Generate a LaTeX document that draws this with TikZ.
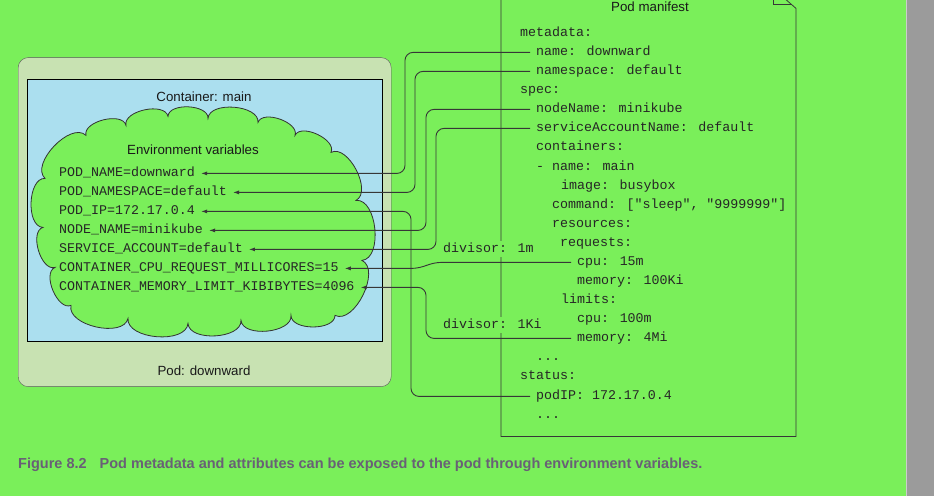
\documentclass[tikz,border=0pt]{standalone}
\usepackage{fontspec}
\setmainfont{Liberation Sans}
\newfontfamily\codefont{Liberation Mono}
\usetikzlibrary{arrows.meta}
\definecolor{bggreen}{RGB}{122,239,90}
\definecolor{podfill}{RGB}{200,226,178}
\definecolor{boxblue}{RGB}{171,223,239}
\definecolor{stripgray}{RGB}{155,155,155}
\definecolor{capgray}{RGB}{105,96,118}
\definecolor{linegray}{RGB}{55,55,55}
\begin{document}
\begin{tikzpicture}[x=1pt,y=-1pt,
	code/.style={font=\codefont\fontsize{13.3}{16}\selectfont,inner sep=0pt,
		anchor=west,text height=9pt,text depth=3pt,text=black!85},
	sans/.style={font=\fontsize{13.3}{16}\selectfont,text=black!90},
	conn/.style={draw=linegray,line width=0.9pt,rounded corners=8pt,
		-{Latex[length=6pt,width=4pt]}},
	divtxt/.style={code,fill=bggreen,inner sep=2pt},
	puff/.style={bend left=90,looseness=0.9}]
	\fill[bggreen] (0,0) rectangle (934,496);
	\fill[stripgray] (906,0) rectangle (934,496);
	\draw[gray!40,line width=0.8pt] (906.5,0) -- (906.5,496);
	\useasboundingbox (0,0) rectangle (934,496);

	\node[draw=gray!70!black,fill=podfill,rounded corners=10pt,inner sep=0pt,
		minimum width=373pt,minimum height=329pt,anchor=north west] (pod) at (18,57) {};
	\node[draw=black,fill=boxblue,inner sep=0pt,
		minimum width=355pt,minimum height=262pt,anchor=north west] (ctr) at (27,79) {};
	\node[sans] (ctrlbl) at (204,96) {Container: main};
	\node[sans] (podlbl) at (204,370) {Pod: downward};

	\filldraw[draw=black!80,fill=bggreen,line width=0.8pt] (45,178) to[puff] (86,135) to[puff] (126,125)
		to[puff] (168,116) to[puff] (208,118) to[puff] (258,122) to[puff] (295,135)
		to[puff] (331,152) to[puff] (356,200) to[puff] (362,260) to[puff] (335,315)
		to[puff] (291,315) to[puff] (241,320) to[puff] (188,323) to[puff] (128,318)
		to[puff] (71,305) to[puff] (55,267) to[puff] (43,227) to[puff] (45,178) -- cycle;
	\node[sans] (envlbl) at (193,149) {Environment variables};

	\begin{scope}[every node/.style={code}]
	\node (ePN) at (59,173) {POD\_NAME=downward};
	\node (ePNS) at (59,192) {POD\_NAMESPACE=default};
	\node (ePIP) at (59,211) {POD\_IP=172.17.0.4};
	\node (eNN) at (59,230) {NODE\_NAME=minikube};
	\node (eSA) at (59,249) {SERVICE\_ACCOUNT=default};
	\node (eCPU) at (59,268) {CONTAINER\_CPU\_REQUEST\_MILLICORES=15};
	\node (eMEM) at (59,287) {CONTAINER\_MEMORY\_LIMIT\_KIBIBYTES=4096};
	\end{scope}

	\draw[linegray,line width=0.8pt] (501,436) -- (501,-12) -- (773,-12) -- (796,8) -- (796,436) -- cycle;
	\draw[linegray,line width=0.8pt] (773,-12) -- (773,4) -- (791,4);
	\node[sans] (mtitle) at (650,6) {Pod manifest};

	\begin{scope}[every node/.style={code}]
	\node (mmeta) at (520,33) {metadata:};
	\node (mname) at (536,52) {name: downward};
	\node (mns) at (536,71) {namespace: default};
	\node (mspec) at (520,90) {spec:};
	\node (mnode) at (536,109) {nodeName: minikube};
	\node (msa) at (536,128) {serviceAccountName: default};
	\node (mctrs) at (536,147) {containers:};
	\node (mcname) at (536,167) {- name: main};
	\node (mimg) at (561,186) {image: busybox};
	\node (mcmd) at (552,205) {command: ["sleep", "9999999"]};
	\node (mres) at (552,224) {resources:};
	\node (mreq) at (560,243) {requests:};
	\node (mcpu) at (577,262) {cpu: 15m};
	\node (mmemr) at (577,281) {memory: 100Ki};
	\node (mlim) at (561,300) {limits:};
	\node (mcpul) at (577,319) {cpu: 100m};
	\node (mmem) at (577,338) {memory: 4Mi};
	\node (mdots1) at (536,357) {...};
	\node (mstat) at (520,376) {status:};
	\node (mip) at (536,396) {podIP: 172.17.0.4};
	\node (mdots2) at (536,415) {...};
	\end{scope}

	\draw[conn] ([xshift=-6pt]mname.west) -- ++(-125,0) |- ([xshift=6pt]ePN.east);
	\draw[conn] ([xshift=-6pt]mns.west) -- ++(-115,0) |- ([xshift=6pt]ePNS.east);
	\draw[conn] ([xshift=-6pt]mnode.west) -- ++(-104,0) |- ([xshift=6pt]eNN.east);
	\draw[conn] ([xshift=-6pt]msa.west) -- ++(-94,0) |- ([xshift=6pt]eSA.east);
	\draw[conn] ([xshift=-6pt]mip.west) -- ++(-119,0) |- ([xshift=6pt]ePIP.east);
	\draw[conn] ([xshift=-6pt]mcpu.west) -- ++(-138,0) -- ++(-13,6) -- ([xshift=6pt]eCPU.east);
	\draw[conn] ([xshift=-6pt]mmem.west) -- ++(-145,0) |- ([xshift=6pt]eMEM.east);

	\node[divtxt] (div1) at (441,249) {divisor: 1m};
	\node[divtxt] (div2) at (441,325) {divisor: 1Ki};

	\node[anchor=west,inner sep=0pt,text=capgray,
		font=\bfseries\fontsize{14.5}{17}\selectfont] (caption) at (18,464)
		{Figure 8.2\hspace{13pt}Pod metadata and attributes can be exposed to the pod through environment variables.};
\end{tikzpicture}
\end{document}
